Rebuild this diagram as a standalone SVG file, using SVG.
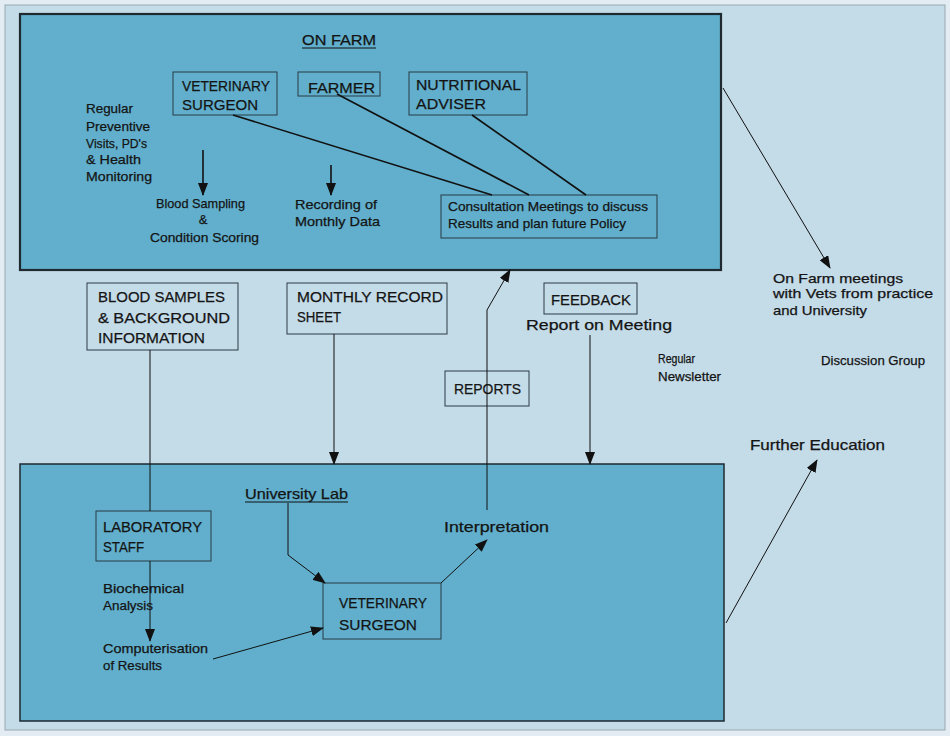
<svg xmlns="http://www.w3.org/2000/svg" width="950" height="736" viewBox="0 0 950 736">
<style>
text{font-family:"Liberation Sans",Arial,sans-serif;fill:#141414;stroke:#141414;stroke-width:0.25}
.cap{font-size:15.5px}
.mid{font-size:14.5px}
.sm{font-size:13px}
.xs{font-size:12px}
.box{fill:none;stroke:#2a3a44;stroke-width:1}
.big{fill:#61afcc;stroke:#1e2a30}
.ln{fill:none;stroke:#111;stroke-width:1}
.ln2{fill:none;stroke:#111;stroke-width:1.6}
</style>
<defs>
<marker id="ah" markerWidth="13" markerHeight="10" refX="12" refY="5" orient="auto" markerUnits="userSpaceOnUse">
<path d="M0,0 L13,5 L0,10 Z" fill="#111"/>
</marker>
</defs>
<rect x="0" y="0" width="950" height="736" fill="#e2ecf2"/>
<rect x="5" y="5" width="940" height="725" fill="#c4dbe8" stroke="#9aa8b0" stroke-width="1"/>

<g id="on-farm">
<rect class="big" x="20" y="14" width="701" height="256" stroke-width="2.2"/>
<text class="mid" x="302" y="45" textLength="74" lengthAdjust="spacingAndGlyphs">ON FARM</text>
<line x1="302" y1="48" x2="376" y2="48" stroke="#111" stroke-width="1"/>
</g>
<g id="university">
<rect class="big" x="20" y="464" width="704" height="257" stroke-width="1.5"/>
<text class="mid" x="245" y="499" textLength="103" lengthAdjust="spacingAndGlyphs">University Lab</text>
<line x1="245" y1="502" x2="348" y2="502" stroke="#111" stroke-width="1"/>
</g>

<g id="vet-top">
<rect class="box" x="173" y="72" width="104" height="43"/>
<text class="cap" x="182" y="91" textLength="88" lengthAdjust="spacingAndGlyphs">VETERINARY</text>
<text class="cap" x="182" y="110" textLength="76" lengthAdjust="spacingAndGlyphs">SURGEON</text>
</g>
<g id="farmer">
<rect class="box" x="298" y="72" width="82" height="24"/>
<text class="cap" x="308" y="93" textLength="67" lengthAdjust="spacingAndGlyphs">FARMER</text>
</g>
<g id="nutritional">
<rect class="box" x="409" y="72" width="118" height="43"/>
<text class="cap" x="416" y="90" textLength="105" lengthAdjust="spacingAndGlyphs">NUTRITIONAL</text>
<text class="cap" x="416" y="109" textLength="70" lengthAdjust="spacingAndGlyphs">ADVISER</text>
</g>
<g id="preventive">
<text class="sm" x="86" y="113" textLength="47" lengthAdjust="spacingAndGlyphs">Regular</text>
<text class="sm" x="86" y="131" textLength="64" lengthAdjust="spacingAndGlyphs">Preventive</text>
<text class="sm" x="86" y="148" textLength="61" lengthAdjust="spacingAndGlyphs">Visits, PD's</text>
<text class="sm" x="86" y="164" textLength="55" lengthAdjust="spacingAndGlyphs">&amp; Health</text>
<text class="sm" x="86" y="181" textLength="66" lengthAdjust="spacingAndGlyphs">Monitoring</text>
</g>
<g id="blood-sampling">
<text class="sm" x="156" y="208" textLength="89" lengthAdjust="spacingAndGlyphs">Blood Sampling</text>
<text class="sm" x="203" y="224" text-anchor="middle">&amp;</text>
<text class="sm" x="150" y="242" textLength="109" lengthAdjust="spacingAndGlyphs">Condition Scoring</text>
</g>
<g id="recording">
<text class="sm" x="295" y="209" textLength="82" lengthAdjust="spacingAndGlyphs">Recording of</text>
<text class="sm" x="295" y="226" textLength="85" lengthAdjust="spacingAndGlyphs">Monthly Data</text>
</g>
<g id="consultation">
<rect class="box" x="441" y="195" width="216" height="43"/>
<text class="sm" x="448" y="211" textLength="200" lengthAdjust="spacingAndGlyphs">Consultation Meetings to discuss</text>
<text class="sm" x="448" y="228" textLength="178" lengthAdjust="spacingAndGlyphs">Results and plan future Policy</text>
</g>

<g id="blood-samples">
<rect class="box" x="87" y="283" width="151" height="67"/>
<text class="cap" x="98" y="302" textLength="127" lengthAdjust="spacingAndGlyphs">BLOOD SAMPLES</text>
<text class="cap" x="98" y="323" textLength="132" lengthAdjust="spacingAndGlyphs">&amp; BACKGROUND</text>
<text class="cap" x="98" y="343" textLength="107" lengthAdjust="spacingAndGlyphs">INFORMATION</text>
</g>
<g id="monthly-record">
<rect class="box" x="287" y="283" width="160" height="51"/>
<text class="cap" x="297" y="302" textLength="146" lengthAdjust="spacingAndGlyphs">MONTHLY RECORD</text>
<text class="cap" x="297" y="322" textLength="44" lengthAdjust="spacingAndGlyphs">SHEET</text>
</g>
<g id="feedback">
<rect class="box" x="544" y="283" width="93" height="31"/>
<text class="cap" x="551" y="305" textLength="80" lengthAdjust="spacingAndGlyphs">FEEDBACK</text>
<text class="mid" x="526" y="330" textLength="146" lengthAdjust="spacingAndGlyphs">Report on Meeting</text>
</g>
<g id="reports">
<rect class="box" x="445" y="371" width="84" height="35"/>
<text class="cap" x="454" y="394" textLength="67" lengthAdjust="spacingAndGlyphs">REPORTS</text>
</g>
<g id="newsletter">
<text class="xs" x="658" y="363" textLength="37" lengthAdjust="spacingAndGlyphs">Regular</text>
<text class="xs" x="658" y="381" textLength="63" lengthAdjust="spacingAndGlyphs">Newsletter</text>
</g>
<g id="discussion">
<text class="sm" x="821" y="365" textLength="104" lengthAdjust="spacingAndGlyphs">Discussion Group</text>
</g>
<g id="on-farm-meetings">
<text class="sm" x="773" y="283" textLength="130" lengthAdjust="spacingAndGlyphs">On Farm meetings</text>
<text class="sm" x="773" y="298" textLength="160" lengthAdjust="spacingAndGlyphs">with Vets from practice</text>
<text class="sm" x="773" y="315" textLength="94" lengthAdjust="spacingAndGlyphs">and University</text>
</g>
<g id="further-education">
<text class="mid" x="750" y="450" textLength="135" lengthAdjust="spacingAndGlyphs">Further Education</text>
</g>

<g id="lab-staff">
<rect class="box" x="96" y="511" width="115" height="50"/>
<text class="cap" x="103" y="532" textLength="99" lengthAdjust="spacingAndGlyphs">LABORATORY</text>
<text class="cap" x="103" y="552" textLength="41" lengthAdjust="spacingAndGlyphs">STAFF</text>
</g>
<g id="biochemical">
<text class="xs" x="103" y="593" textLength="81" lengthAdjust="spacingAndGlyphs">Biochemical</text>
<text class="xs" x="103" y="610" textLength="50" lengthAdjust="spacingAndGlyphs">Analysis</text>
</g>
<g id="computerisation">
<text class="sm" x="103" y="653" textLength="105" lengthAdjust="spacingAndGlyphs">Computerisation</text>
<text class="sm" x="103" y="670" textLength="59" lengthAdjust="spacingAndGlyphs">of Results</text>
</g>
<g id="vet-bottom">
<rect class="box" x="323" y="583" width="118" height="56"/>
<text class="cap" x="339" y="608" textLength="88" lengthAdjust="spacingAndGlyphs">VETERINARY</text>
<text class="cap" x="339" y="630" textLength="78" lengthAdjust="spacingAndGlyphs">SURGEON</text>
</g>
<g id="interpretation">
<text class="mid" x="444" y="532" textLength="105" lengthAdjust="spacingAndGlyphs">Interpretation</text>
</g>

<g id="connectors">
<line class="ln2" x1="233" y1="115" x2="492" y2="195"/>
<line class="ln2" x1="337" y1="94" x2="529" y2="195"/>
<line class="ln2" x1="472" y1="115" x2="586" y2="195"/>
<line class="ln2" x1="203" y1="150" x2="203" y2="195" marker-end="url(#ah)"/>
<line class="ln2" x1="331" y1="165" x2="331" y2="195" marker-end="url(#ah)"/>
<line class="ln" x1="723" y1="88" x2="830" y2="268" marker-end="url(#ah)"/>
<line class="ln" x1="150" y1="350" x2="150" y2="511"/>
<line class="ln" x1="150" y1="561" x2="150" y2="641" marker-end="url(#ah)"/>
<line class="ln" x1="334" y1="334" x2="334" y2="464" marker-end="url(#ah)"/>
<line class="ln" x1="590" y1="335" x2="590" y2="464" marker-end="url(#ah)"/>
<polyline class="ln" points="487,510 487,310 510,270" marker-end="url(#ah)"/>
<polyline class="ln" points="288,503 288,555 325,583" marker-end="url(#ah)"/>
<line class="ln" x1="441" y1="583" x2="487" y2="540" marker-end="url(#ah)"/>
<line class="ln" x1="213" y1="659" x2="323" y2="628" marker-end="url(#ah)"/>
<line class="ln" x1="726" y1="623" x2="817" y2="460" marker-end="url(#ah)"/>
</g>
</svg>
